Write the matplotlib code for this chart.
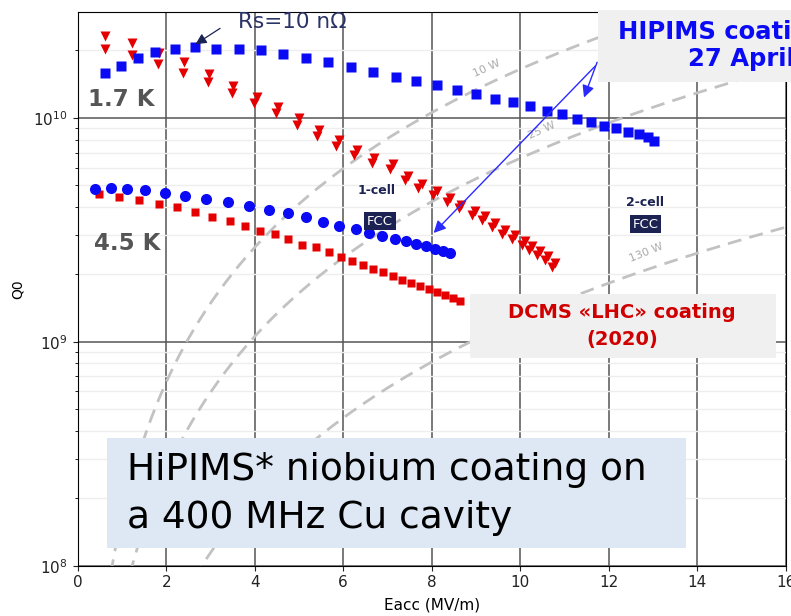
import numpy as np
import matplotlib

matplotlib.use("Agg")
import matplotlib.pyplot as plt
from matplotlib.patches import Rectangle

# 1.7 K, HiPIMS (blue squares)
e_hip_17 = [0.62, 0.97, 1.36, 1.75, 2.19, 2.64, 3.13, 3.64, 4.14, 4.64, 5.17, 5.66,
            6.18, 6.68, 7.19, 7.65, 8.11, 8.57, 9.00, 9.42, 9.83, 10.22, 10.60,
            10.94, 11.28, 11.60, 11.89, 12.16, 12.43, 12.68, 12.88, 13.02]
q_hip_17 = [1.59e10, 1.71e10, 1.86e10, 1.96e10, 2.03e10, 2.07e10, 2.03e10, 2.03e10,
            2.01e10, 1.93e10, 1.85e10, 1.77e10, 1.69e10, 1.61e10, 1.53e10, 1.46e10,
            1.40e10, 1.33e10, 1.28e10, 1.22e10, 1.18e10, 1.13e10, 1.075e10, 1.04e10,
            9.87e9, 9.57e9, 9.21e9, 8.99e9, 8.69e9, 8.46e9, 8.20e9, 7.89e9]

# 4.5 K, HiPIMS (blue circles)
e_hip_45 = [0.40, 0.75, 1.11, 1.53, 1.97, 2.43, 2.91, 3.40, 3.86, 4.32, 4.76, 5.16,
            5.55, 5.91, 6.28, 6.59, 6.88, 7.16, 7.41, 7.65, 7.87, 8.08, 8.25, 8.41]
q_hip_45 = [4.82e9, 4.85e9, 4.81e9, 4.74e9, 4.61e9, 4.50e9, 4.33e9, 4.19e9, 4.02e9,
            3.87e9, 3.76e9, 3.59e9, 3.42e9, 3.30e9, 3.19e9, 3.07e9, 2.97e9, 2.88e9,
            2.82e9, 2.74e9, 2.68e9, 2.61e9, 2.55e9, 2.49e9]

# 4.5 K, DCMS (red squares)
e_dcms_45 = [0.48, 0.93, 1.39, 1.83, 2.24, 2.64, 3.04, 3.44, 3.79, 4.12, 4.45, 4.76,
             5.08, 5.39, 5.68, 5.94, 6.21, 6.45, 6.68, 6.91, 7.12, 7.32, 7.53, 7.74,
             7.94, 8.13, 8.30, 8.48, 8.64]
q_dcms_45 = [4.56e9, 4.45e9, 4.28e9, 4.13e9, 3.98e9, 3.78e9, 3.59e9, 3.47e9, 3.30e9,
             3.14e9, 3.02e9, 2.87e9, 2.71e9, 2.64e9, 2.51e9, 2.38e9, 2.30e9, 2.21e9,
             2.12e9, 2.04e9, 1.96e9, 1.89e9, 1.83e9, 1.77e9, 1.72e9, 1.67e9, 1.61e9,
             1.57e9, 1.52e9]

# 1.7 K, DCMS (red triangles, two runs)
e_dcms_17a = [0.62, 1.22, 1.84, 2.41, 2.97, 3.52, 4.05, 4.53, 5.01, 5.46, 5.91, 6.31,
              6.70, 7.13, 7.46, 7.77, 8.11, 8.41, 8.67, 8.98, 9.20, 9.43, 9.66, 9.88,
              10.11, 10.26, 10.45, 10.63, 10.79]
q_dcms_17a = [2.31e10, 2.16e10, 1.95e10, 1.77e10, 1.57e10, 1.39e10, 1.24e10, 1.12e10,
              9.97e9, 8.84e9, 7.98e9, 7.20e9, 6.61e9, 6.20e9, 5.51e9, 5.07e9, 4.71e9,
              4.40e9, 4.10e9, 3.83e9, 3.64e9, 3.40e9, 3.17e9, 2.99e9, 2.82e9, 2.67e9,
              2.54e9, 2.41e9, 2.25e9]
e_dcms_17b = [0.62, 1.22, 1.81, 2.39, 2.95, 3.48, 3.98, 4.48, 4.95, 5.40, 5.84, 6.24,
              6.64, 7.06, 7.40, 7.70, 8.04, 8.35, 8.61, 8.91, 9.14, 9.36, 9.59, 9.82,
              10.04, 10.19, 10.38, 10.56, 10.72]
q_dcms_17b = [2.03e10, 1.90e10, 1.74e10, 1.59e10, 1.44e10, 1.29e10, 1.16e10, 1.05e10,
              9.31e9, 8.31e9, 7.50e9, 6.84e9, 6.28e9, 5.92e9, 5.26e9, 4.87e9, 4.52e9,
              4.22e9, 3.94e9, 3.68e9, 3.49e9, 3.26e9, 3.04e9, 2.87e9, 2.70e9, 2.57e9,
              2.44e9, 2.32e9, 2.16e9]

# constant-power lines : Q0 = K * Eacc^2 / P
power_w = [10, 25, 130]
power_k = 1.65e9

BLUE = "#0a0af5"
RED = "#e40000"
NAVY = "#1c2352"

fig = plt.figure(figsize=(7.91, 6.16), dpi=100)
ax = fig.add_axes([77.7 / 791, 1 - 565.7 / 616, 708 / 791, 554 / 616])


def fpx(x, y):
    """pixels de l'image -> fraction figure"""
    return x / 791, 1 - y / 616


ax.set_yscale("log")
ax.set_xlim(0, 16)
ax.set_ylim(1e8, 2.98e10)
ax.set_xticks(range(0, 17, 2))
ax.grid(True, which="major", color="#555555", lw=1.1)
ax.grid(True, which="minor", axis="y", color="#eeeeee", lw=1.0)
ax.tick_params(labelsize=11, colors="#222222")
ax.set_axisbelow(True)
ax.set_xlabel("Eacc (MV/m)", fontsize=11, labelpad=5)
ax.set_ylabel("Q0", fontsize=10)
ax.yaxis.set_label_coords(-0.075, 0.5)

# power lines
e_line = np.linspace(0.3, 16, 300)
for p in power_w:
    ax.plot(e_line, power_k * e_line**2 / p, ls=(0, (5, 3)), color="#c2c2c2",
            lw=2, zorder=1)
ax.text(*fpx(487, 68), "10 W", transform=fig.transFigure, rotation=24,
        fontsize=8, color="#aaaaaa", ha="center", va="center")
ax.text(*fpx(542, 130), "25 W", transform=fig.transFigure, rotation=24,
        fontsize=8, color="#aaaaaa", ha="center", va="center")
ax.text(*fpx(646, 253), "130 W", transform=fig.transFigure, rotation=22,
        fontsize=8, color="#aaaaaa", ha="center", va="center")

# data
ax.plot(e_dcms_17a, q_dcms_17a, "v", color=RED, ms=6.5, mec="none", zorder=3)
ax.plot(e_dcms_17b, q_dcms_17b, "v", color=RED, ms=6.5, mec="none", zorder=3)
ax.plot(e_dcms_45, q_dcms_45, "s", color=RED, ms=6, mec="none", zorder=3)
ax.plot(e_hip_17, q_hip_17, "s", color=BLUE, ms=7, mec="none", zorder=4)
ax.plot(e_hip_45, q_hip_45, "o", color=BLUE, ms=8, mec="none", zorder=4)

# labels
ax.text(*fpx(88, 100), "1.7 K", transform=fig.transFigure, fontsize=16.5,
        fontweight="bold", color="#555555", va="center")
ax.text(*fpx(94, 244), "4.5 K", transform=fig.transFigure, fontsize=16.5,
        fontweight="bold", color="#555555", va="center")
ax.text(*fpx(238, 22), "Rs=10 nΩ", transform=fig.transFigure, fontsize=15.5,
        color="#2b3467", va="center")
ax.annotate("", xy=(2.61, 2.1e10), xytext=(3.27, 2.55e10),
            arrowprops=dict(arrowstyle="-|>", color=NAVY, lw=0.9,
                            mutation_scale=16), zorder=6)

ax.text(*fpx(377, 191), "1-cell", transform=fig.transFigure, fontsize=9,
        fontweight="bold", color=NAVY, ha="center", va="center")
ax.text(*fpx(380, 221), "FCC", transform=fig.transFigure, fontsize=9.5,
        color="white", ha="center", va="center", zorder=7,
        bbox=dict(boxstyle="square,pad=0.2", fc=NAVY, ec="none"))
ax.text(*fpx(645, 203), "2-cell", transform=fig.transFigure, fontsize=9,
        fontweight="bold", color=NAVY, ha="center", va="center")
ax.text(*fpx(645.5, 224), "FCC", transform=fig.transFigure, fontsize=9.5,
        color="white", ha="center", va="center", zorder=7,
        bbox=dict(boxstyle="square,pad=0.2", fc=NAVY, ec="none"))

# boxes
x0, y0 = fpx(598, 82)
fig.patches.append(Rectangle((x0, y0), 1 - x0, 72 / 616, transform=fig.transFigure,
                             fc="#f0f0f0", ec="none", zorder=5))
fig.text(*fpx(618, 32), "HIPIMS coating", fontsize=17.5, fontweight="bold",
         color=BLUE, va="center", zorder=6)
fig.text(*fpx(688, 59), "27 April 2021", fontsize=17.5, fontweight="bold",
         color=BLUE, va="center", zorder=6)

x0, y0 = fpx(470, 358)
fig.patches.append(Rectangle((x0, y0), 306 / 791, 64 / 616, transform=fig.transFigure,
                             fc="#f0f0f0", ec="none", zorder=5))
fig.text(*fpx(622, 313), "DCMS «LHC» coating", fontsize=14, fontweight="bold",
         color="#d00000", ha="center", va="center", zorder=6)
fig.text(*fpx(622, 340), "(2020)", fontsize=14, fontweight="bold",
         color="#d00000", ha="center", va="center", zorder=6)

x0, y0 = fpx(107, 548)
fig.patches.append(Rectangle((x0, y0), 579 / 791, 110 / 616, transform=fig.transFigure,
                             fc="#dde8f4", ec="none", zorder=5))
fig.text(*fpx(127, 470), "HiPIMS* niobium coating on", fontsize=27,
         color="black", va="center", zorder=6)
fig.text(*fpx(127, 518), "a 400 MHz Cu cavity", fontsize=27,
         color="black", va="center", zorder=6)

# blue arrows from HIPIMS box
ax.annotate("", xy=(8.0, 3.0e9), xytext=(11.74, 1.74e10),
            arrowprops=dict(arrowstyle="-|>", color="#2a2aff", lw=1.0,
                            mutation_scale=18), zorder=6)
ax.annotate("", xy=(11.42, 1.2e10), xytext=(11.76, 1.82e10),
            arrowprops=dict(arrowstyle="-|>", color="#2a2aff", lw=1.0,
                            mutation_scale=18), zorder=6)

plt.savefig("out.png", dpi=100)
